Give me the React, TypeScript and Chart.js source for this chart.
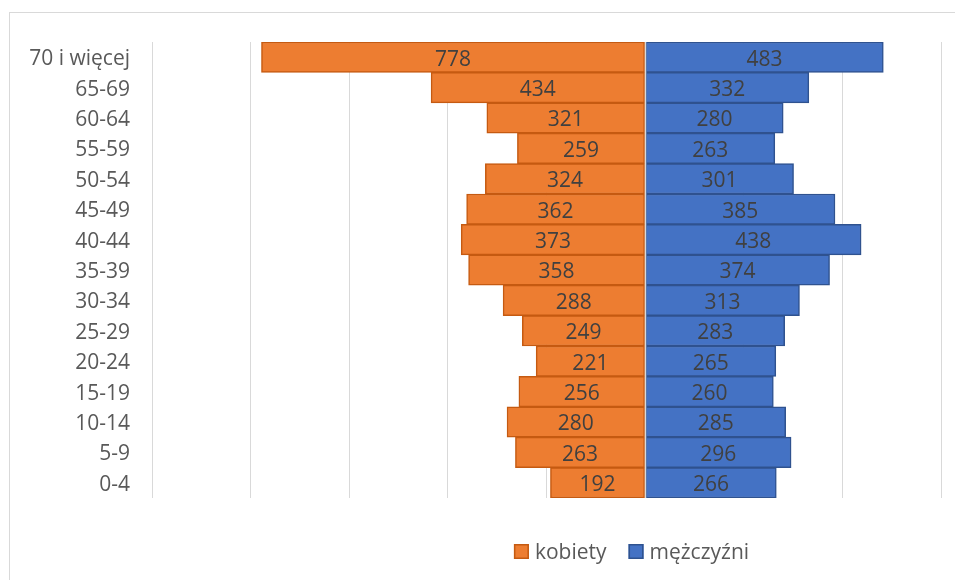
import React, { useEffect, useRef } from "react";
import { Chart, registerables } from "chart.js";

Chart.register(...registerables);

const categories = ["70 i więcej", "65-69", "60-64", "55-59", "50-54", "45-49", "40-44", "35-39", "30-34", "25-29", "20-24", "15-19", "10-14", "5-9", "0-4"];
const kobiety = [778, 434, 321, 259, 324, 362, 373, 358, 288, 249, 221, 256, 280, 263, 192];
const mezczyzni = [483, 332, 280, 263, 301, 385, 438, 374, 313, 283, 265, 260, 285, 296, 266];
const seriesNames = ["kobiety", "mężczyźni"];

const FONT = "'Open Sans', sans-serif";
const FONT_SIZE = 21;

const labelsPlugin = {
  id: "barLabels",
  afterDatasetsDraw(chart: any) {
    const ctx = chart.ctx;
    const xs = chart.scales.x;
    const area = chart.chartArea;
    const zx = Math.round(xs.getPixelForValue(0)) + 0.5;
    ctx.save();
    ctx.strokeStyle = "#d9d9d9";
    ctx.lineWidth = 1.5;
    ctx.beginPath();
    ctx.moveTo(zx, area.top);
    ctx.lineTo(zx, area.bottom);
    ctx.stroke();
    ctx.font = `${FONT_SIZE}px ${FONT}`;
    ctx.fillStyle = "#404040";
    ctx.textAlign = "center";
    ctx.textBaseline = "middle";
    chart.data.datasets.forEach((ds: any, di: number) => {
      const meta = chart.getDatasetMeta(di);
      meta.data.forEach((el: any, i: number) => {
        const v = Math.abs(ds.data[i]);
        const cx = (el.x + el.base) / 2;
        ctx.fillText(String(v), cx, el.y + 2.5);
      });
    });
    ctx.restore();
  },
};

const legendPlugin = {
  id: "customLegend",
  afterDraw(chart: any) {
    const ctx = chart.ctx;
    ctx.save();
    ctx.font = `${FONT_SIZE}px ${FONT}`;
    const box = 15;
    const gapText = 6;
    const gapItem = 22;
    const items = chart.data.datasets.map((ds: any) => ({
      label: ds.label,
      fill: ds.backgroundColor,
      stroke: ds.borderColor,
      w: ctx.measureText(ds.label).width,
    }));
    const total = items.reduce((s: number, it: any) => s + box + gapText + it.w, 0) + gapItem * (items.length - 1);
    let x = 631.5 - total / 2;
    const cy = 551.5;
    items.forEach((it: any) => {
      ctx.fillStyle = it.fill;
      ctx.fillRect(x, cy - box / 2, box, box);
      ctx.strokeStyle = it.stroke;
      ctx.lineWidth = 1.5;
      ctx.strokeRect(x + 0.75, cy - box / 2 + 0.75, box - 1.5, box - 1.5);
      ctx.fillStyle = "#595959";
      ctx.textAlign = "left";
      ctx.textBaseline = "middle";
      ctx.fillText(it.label, x + box + gapText, cy + 1.5);
      x += box + gapText + it.w + gapItem;
    });
    ctx.restore();
  },
};

export default function App() {
  const ref = useRef<HTMLCanvasElement | null>(null);
  useEffect(() => {
    if (!ref.current) return;
    const chart = new Chart(ref.current, {
      type: "bar",
      data: {
        labels: categories,
        datasets: [
          {
            label: seriesNames[0],
            data: kobiety.map((v) => -v),
            backgroundColor: "#ED7D31",
            borderColor: "#C55A11",
            borderWidth: 1.5,
            borderSkipped: false,
            barPercentage: 1,
            categoryPercentage: 1,
          },
          {
            label: seriesNames[1],
            data: mezczyzni,
            backgroundColor: "#4472C4",
            borderColor: "#2F528F",
            borderWidth: 1.5,
            borderSkipped: false,
            barPercentage: 1,
            categoryPercentage: 1,
          },
        ],
      },
      options: {
        indexAxis: "y",
        animation: false,
        responsive: false,
        maintainAspectRatio: false,
        layout: { padding: { left: 0, right: 14, top: 42, bottom: 82 } },
        plugins: {
          legend: { display: false },
          tooltip: { enabled: false },
        },
        scales: {
          x: {
            stacked: true,
            min: -1000,
            max: 600,
            ticks: { display: false, stepSize: 200 },
            grid: { color: "#d9d9d9", lineWidth: 1, drawTicks: false },
            border: { display: false },
            afterFit: (s: any) => {
              s.height = 0;
            },
          },
          y: {
            stacked: true,
            grid: { display: false, drawTicks: false },
            border: { display: false },
            ticks: {
              color: "#595959",
              font: { family: FONT, size: FONT_SIZE },
              padding: 22,
              labelOffset: 2,
              autoSkip: false,
            },
            afterFit: (s: any) => {
              s.width = 152;
            },
          },
        },
      } as any,
      plugins: [labelsPlugin, legendPlugin],
    });
    return () => chart.destroy();
  }, []);
  return (
    <div style={{ position: "absolute", left: 0, top: 0, width: 955, height: 580, background: "#fff" }}>
      <div
        style={{
          position: "absolute",
          left: 9,
          top: 12,
          right: 0,
          bottom: 0,
          borderLeft: "1px solid #d9d9d9",
          borderTop: "1px solid #d9d9d9",
        }}
      />
      <canvas ref={ref} width={955} height={580} style={{ position: "absolute", left: 0, top: 0, width: 955, height: 580 }} />
    </div>
  );
}
